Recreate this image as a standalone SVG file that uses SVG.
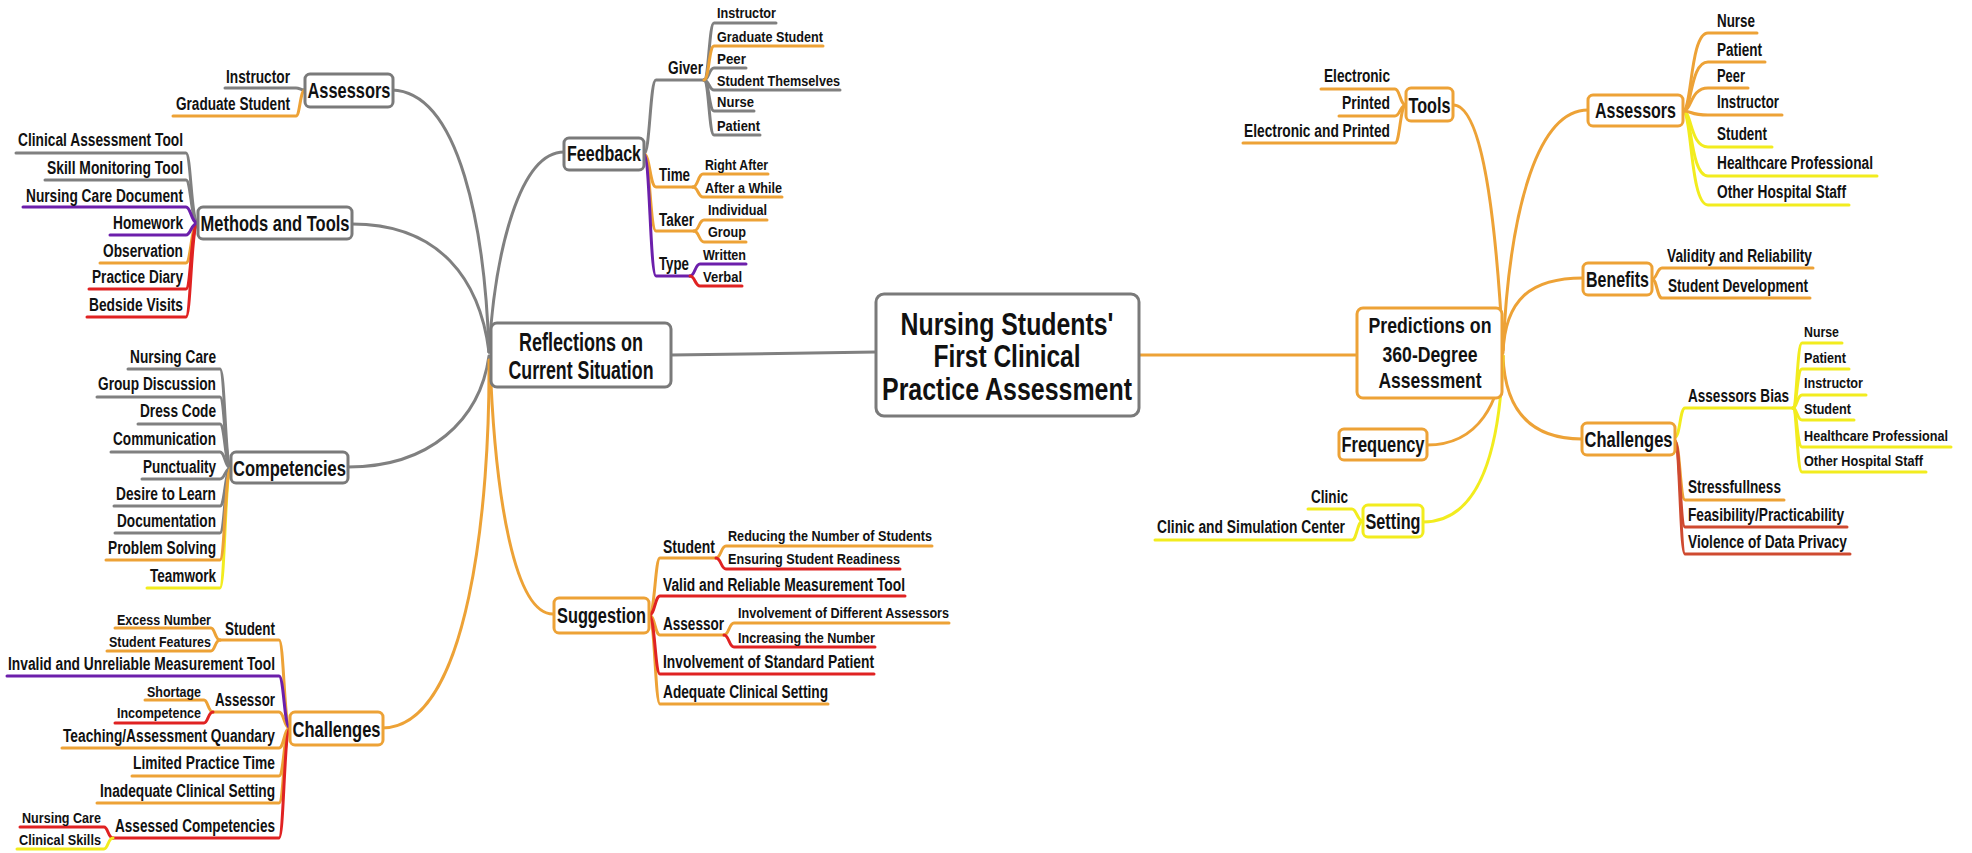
<svg xmlns="http://www.w3.org/2000/svg" width="1972" height="853" viewBox="0 0 1972 853">
<style>
text{font-family:"Liberation Sans",Arial,sans-serif;font-weight:bold;fill:#111}
.s32{font-size:32px}.s24{font-size:25px}.s21{font-size:22px}.s17{font-size:18px}.s15{font-size:15px}
.e{text-anchor:end}.m{text-anchor:middle}
path{fill:none;stroke-width:3;stroke-linecap:round}
.g{stroke:#808080}.o{stroke:#eda236}.y{stroke:#f2ec1e}.p{stroke:#6c1fab}.r{stroke:#e02222}.d{stroke:#cf4a30}
rect{fill:#fff;stroke-width:3}
rect.g{stroke:#7a7a7a}
</style>
<rect width="1972" height="853" fill="#fff" stroke="none"/>
<g id="connectors">
<path class="g" d="M671 355L876 352"/>
<path class="o" d="M1139 355L1357 355"/>
<path class="g" d="M489 352C485 230 460 92 392 90"/>
<path class="g" d="M489 352C480 280 440 224 352 224"/>
<path class="g" d="M489 352C495 250 520 152 564 152"/>
<path class="g" d="M489 356C480 420 430 467 348 467"/>
<path class="o" d="M490 360C495 500 515 614 553 614"/>
<path class="o" d="M489 360C490 500 470 728 382 728"/>
<path class="g" d="M305 90C300 90 300 88 296 88H225"/>
<path class="o" d="M305 90C300 90 300 116 296 116H173"/>
<path class="g" d="M198 223C191 223 191 153 186 153H16"/>
<path class="g" d="M198 223C191 223 191 180 186 180H45"/>
<path class="p" d="M198 223C191 223 191 207 186 207H23"/>
<path class="o" d="M198 223C191 223 191 263 186 263H100"/>
<path class="r" d="M198 223C191 223 191 289 186 289H89"/>
<path class="r" d="M198 223C191 223 191 317 186 317H87"/>
<path class="p" d="M198 223C191 223 191 235 186 235H110"/>
<path class="g" d="M231 468C225 468 225 369 220 369H128"/>
<path class="g" d="M231 468C225 468 225 397 220 397H97"/>
<path class="g" d="M231 468C225 468 225 424 220 424H138"/>
<path class="g" d="M231 468C225 468 225 452 220 452H111"/>
<path class="g" d="M231 468C225 468 225 479 220 479H142"/>
<path class="g" d="M231 468C225 468 225 506 220 506H114"/>
<path class="g" d="M231 468C225 468 225 533 220 533H115"/>
<path class="y" d="M231 468C225 468 225 588 220 588H147"/>
<path class="o" d="M231 468C225 468 225 560 220 560H106"/>
<path class="o" d="M290 728C284 728 284 640 279 640H220"/>
<path class="o" d="M290 728C284 728 284 712 279 712H213"/>
<path class="o" d="M290 728C284 728 284 748 279 748H62"/>
<path class="o" d="M290 728C284 728 284 776 279 776H132"/>
<path class="o" d="M290 728C284 728 284 803 279 803H97"/>
<path class="p" d="M290 728C284 728 284 676 279 676H7"/>
<path class="r" d="M290 728C284 728 284 838 279 838H113"/>
<path class="o" d="M220 640C215 640 215 628 211 628H115"/>
<path class="o" d="M220 640C215 640 215 651 211 651H107"/>
<path class="o" d="M213 712C208 712 208 700 204 700H145"/>
<path class="r" d="M213 712C208 712 208 723 204 723H115"/>
<path class="r" d="M113 838C108 838 108 827 104 827H20"/>
<path class="y" d="M113 838C108 838 108 849 104 849H17"/>
<path class="g" d="M644 154C650 154 650 80 656 80H704"/>
<path class="o" d="M644 154C650 154 650 187 656 187H693"/>
<path class="o" d="M644 154C650 154 650 231 656 231H694"/>
<path class="p" d="M644 154C650 154 650 276 656 276H690"/>
<path class="g" d="M704 80C709 80 709 23 714 23H776"/>
<path class="g" d="M704 80C709 80 709 68 714 68H746"/>
<path class="g" d="M704 80C709 80 709 90 714 90H840"/>
<path class="g" d="M704 80C709 80 709 111 714 111H754"/>
<path class="g" d="M704 80C709 80 709 135 714 135H760"/>
<path class="o" d="M704 80C709 80 709 46 714 46H823"/>
<path class="o" d="M693 187C698 187 698 174 703 174H768"/>
<path class="o" d="M693 187C698 187 698 197 703 197H782"/>
<path class="o" d="M694 231C699 231 699 220 704 220H767"/>
<path class="o" d="M694 231C699 231 699 242 704 242H746"/>
<path class="p" d="M690 276C695 276 695 264 700 264H746"/>
<path class="r" d="M690 276C695 276 695 286 700 286H742"/>
<path class="o" d="M649 615C655 615 655 558 660 558H716"/>
<path class="o" d="M649 615C655 615 655 635 660 635H724"/>
<path class="o" d="M649 615C655 615 655 704 660 704H828"/>
<path class="r" d="M649 615C655 615 655 596 660 596H905"/>
<path class="r" d="M649 615C655 615 655 674 660 674H874"/>
<path class="o" d="M716 558C721 558 721 546 726 546H932"/>
<path class="r" d="M716 558C721 558 721 569 726 569H900"/>
<path class="o" d="M724 635C729 635 729 623 734 623H949"/>
<path class="r" d="M724 635C729 635 729 647 734 647H875"/>
<path class="o" d="M1503 350C1495 200 1480 105 1453 105"/>
<path class="o" d="M1503 350C1510 200 1540 110 1588 110"/>
<path class="o" d="M1503 353C1505 300 1530 278 1583 278"/>
<path class="o" d="M1503 356C1505 410 1530 439 1582 439"/>
<path class="o" d="M1503 356C1500 400 1480 445 1427 445"/>
<path class="y" d="M1503 356C1500 450 1480 522 1423 522"/>
<path class="o" d="M1406 105C1400 105 1400 89 1395 89H1321"/>
<path class="o" d="M1406 105C1400 105 1400 116 1395 116H1339"/>
<path class="o" d="M1406 105C1400 105 1400 143 1395 143H1243"/>
<path class="y" d="M1683 111C1692 111 1690 205 1708 205H1849"/>
<path class="y" d="M1683 111C1692 111 1690 176 1708 176H1877"/>
<path class="y" d="M1683 111C1692 111 1690 147 1708 147H1772"/>
<path class="o" d="M1683 111C1692 111 1690 33 1708 33H1757"/>
<path class="o" d="M1683 111C1692 111 1690 62 1708 62H1765"/>
<path class="o" d="M1683 111C1692 111 1690 88 1708 88H1748"/>
<path class="o" d="M1683 111C1692 111 1690 115 1708 115H1782"/>
<path class="o" d="M1652 279C1657 279 1657 268 1662 268H1813"/>
<path class="o" d="M1652 279C1657 279 1657 298 1662 298H1810"/>
<path class="o" d="M1675 441C1680 441 1680 500 1685 500H1784"/>
<path class="d" d="M1675 441C1680 441 1680 527 1685 527H1847"/>
<path class="d" d="M1675 441C1680 441 1680 554 1685 554H1850"/>
<path class="y" d="M1675 437C1680 437 1680 408 1685 408H1793"/>
<path class="y" d="M1793 408C1797 408 1797 343 1802 343H1842"/>
<path class="y" d="M1793 408C1797 408 1797 369 1802 369H1849"/>
<path class="y" d="M1793 408C1797 408 1797 395 1802 395H1866"/>
<path class="y" d="M1793 408C1797 408 1797 420 1802 420H1854"/>
<path class="y" d="M1793 408C1797 408 1797 447 1802 447H1951"/>
<path class="y" d="M1793 408C1797 408 1797 472 1802 472H1926"/>
<path class="y" d="M1363 521C1357 521 1357 509 1352 509H1308"/>
<path class="y" d="M1363 521C1357 521 1357 540 1352 540H1155"/>
</g>
<g id="root">
<rect class="g" x="876" y="294" width="263" height="122" rx="8"/>
<text class="s32 m" x="1007" y="335" textLength="213" lengthAdjust="spacingAndGlyphs">Nursing Students'</text>
<text class="s32 m" x="1007" y="367" textLength="147" lengthAdjust="spacingAndGlyphs">First Clinical</text>
<text class="s32 m" x="1007" y="400" textLength="250" lengthAdjust="spacingAndGlyphs">Practice Assessment</text>
</g>
<g id="reflections">
<rect class="g" x="491" y="323" width="180" height="64" rx="6"/>
<text class="s24 m" x="581" y="351" textLength="124" lengthAdjust="spacingAndGlyphs">Reflections on</text>
<text class="s24 m" x="581" y="379" textLength="145" lengthAdjust="spacingAndGlyphs">Current Situation</text>
</g>
<g id="predictions">
<rect class="o" x="1357" y="308" width="145" height="90" rx="6"/>
<text class="s21 m" x="1430" y="333" textLength="123" lengthAdjust="spacingAndGlyphs">Predictions on</text>
<text class="s21 m" x="1430" y="362" textLength="95" lengthAdjust="spacingAndGlyphs">360-Degree</text>
<text class="s21 m" x="1430" y="388" textLength="103" lengthAdjust="spacingAndGlyphs">Assessment</text>
</g>
<g id="l-assessors"><rect class="g" x="305" y="74" width="88" height="33" rx="5"/><text class="s21 m" x="349" y="98" textLength="83" lengthAdjust="spacingAndGlyphs">Assessors</text></g>
<g id="l-assessors-1"><text class="s17 e" x="290" y="83" textLength="64" lengthAdjust="spacingAndGlyphs">Instructor</text></g>
<g id="l-assessors-2"><text class="s17 e" x="290" y="110" textLength="114" lengthAdjust="spacingAndGlyphs">Graduate Student</text></g>
<g id="l-methods"><rect class="g" x="198" y="207" width="154" height="32" rx="5"/><text class="s21 m" x="275" y="231" textLength="149" lengthAdjust="spacingAndGlyphs">Methods and Tools</text></g>
<g id="l-methods-1"><text class="s17 e" x="183" y="146" textLength="165" lengthAdjust="spacingAndGlyphs">Clinical Assessment Tool</text></g>
<g id="l-methods-2"><text class="s17 e" x="183" y="174" textLength="136" lengthAdjust="spacingAndGlyphs">Skill Monitoring Tool</text></g>
<g id="l-methods-3"><text class="s17 e" x="183" y="202" textLength="157" lengthAdjust="spacingAndGlyphs">Nursing Care Document</text></g>
<g id="l-methods-4"><text class="s17 e" x="183" y="229" textLength="70" lengthAdjust="spacingAndGlyphs">Homework</text></g>
<g id="l-methods-5"><text class="s17 e" x="183" y="257" textLength="80" lengthAdjust="spacingAndGlyphs">Observation</text></g>
<g id="l-methods-6"><text class="s17 e" x="183" y="283" textLength="91" lengthAdjust="spacingAndGlyphs">Practice Diary</text></g>
<g id="l-methods-7"><text class="s17 e" x="183" y="311" textLength="94" lengthAdjust="spacingAndGlyphs">Bedside Visits</text></g>
<g id="l-competencies"><rect class="g" x="231" y="452" width="117" height="31" rx="5"/><text class="s21 m" x="289.5" y="476" textLength="113" lengthAdjust="spacingAndGlyphs">Competencies</text></g>
<g id="l-comp-1"><text class="s17 e" x="216" y="363" textLength="86" lengthAdjust="spacingAndGlyphs">Nursing Care</text></g>
<g id="l-comp-2"><text class="s17 e" x="216" y="390" textLength="118" lengthAdjust="spacingAndGlyphs">Group Discussion</text></g>
<g id="l-comp-3"><text class="s17 e" x="216" y="417" textLength="76" lengthAdjust="spacingAndGlyphs">Dress Code</text></g>
<g id="l-comp-4"><text class="s17 e" x="216" y="445" textLength="103" lengthAdjust="spacingAndGlyphs">Communication</text></g>
<g id="l-comp-5"><text class="s17 e" x="216" y="473" textLength="73" lengthAdjust="spacingAndGlyphs">Punctuality</text></g>
<g id="l-comp-6"><text class="s17 e" x="216" y="500" textLength="100" lengthAdjust="spacingAndGlyphs">Desire to Learn</text></g>
<g id="l-comp-7"><text class="s17 e" x="216" y="527" textLength="99" lengthAdjust="spacingAndGlyphs">Documentation</text></g>
<g id="l-comp-8"><text class="s17 e" x="216" y="554" textLength="108" lengthAdjust="spacingAndGlyphs">Problem Solving</text></g>
<g id="l-comp-9"><text class="s17 e" x="216" y="582" textLength="66" lengthAdjust="spacingAndGlyphs">Teamwork</text></g>
<g id="l-challenges"><rect class="o" x="290" y="712" width="93" height="33" rx="5"/><text class="s21 m" x="336.5" y="737" textLength="88" lengthAdjust="spacingAndGlyphs">Challenges</text></g>
<g id="l-ch-student"><text class="s17 e" x="275" y="635" textLength="50" lengthAdjust="spacingAndGlyphs">Student</text></g>
<g id="l-ch-student-1"><text class="s15 e" x="211" y="625" textLength="94" lengthAdjust="spacingAndGlyphs">Excess Number</text></g>
<g id="l-ch-student-2"><text class="s15 e" x="211" y="647" textLength="102" lengthAdjust="spacingAndGlyphs">Student Features</text></g>
<g id="l-ch-invalid"><text class="s17 e" x="275" y="670" textLength="267" lengthAdjust="spacingAndGlyphs">Invalid and Unreliable Measurement Tool</text></g>
<g id="l-ch-assessor"><text class="s17 e" x="275" y="706" textLength="60" lengthAdjust="spacingAndGlyphs">Assessor</text></g>
<g id="l-ch-assessor-1"><text class="s15 e" x="201" y="697" textLength="54" lengthAdjust="spacingAndGlyphs">Shortage</text></g>
<g id="l-ch-assessor-2"><text class="s15 e" x="201" y="718" textLength="84" lengthAdjust="spacingAndGlyphs">Incompetence</text></g>
<g id="l-ch-quandary"><text class="s17 e" x="275" y="742" textLength="212" lengthAdjust="spacingAndGlyphs">Teaching/Assessment Quandary</text></g>
<g id="l-ch-time"><text class="s17 e" x="275" y="769" textLength="142" lengthAdjust="spacingAndGlyphs">Limited Practice Time</text></g>
<g id="l-ch-setting"><text class="s17 e" x="275" y="797" textLength="175" lengthAdjust="spacingAndGlyphs">Inadequate Clinical Setting</text></g>
<g id="l-ch-assessed"><text class="s17 e" x="275" y="832" textLength="160" lengthAdjust="spacingAndGlyphs">Assessed Competencies</text></g>
<g id="l-ch-assessed-1"><text class="s15 e" x="101" y="823" textLength="79" lengthAdjust="spacingAndGlyphs">Nursing Care</text></g>
<g id="l-ch-assessed-2"><text class="s15 e" x="101" y="845" textLength="82" lengthAdjust="spacingAndGlyphs">Clinical Skills</text></g>
<g id="feedback"><rect class="g" x="564" y="138" width="80" height="32" rx="5"/><text class="s21 m" x="604" y="161" textLength="74" lengthAdjust="spacingAndGlyphs">Feedback</text></g>
<g id="fb-giver"><text class="s17" x="668" y="74" textLength="35" lengthAdjust="spacingAndGlyphs">Giver</text></g>
<g id="fb-giver-1"><text class="s15" x="717" y="18" textLength="59" lengthAdjust="spacingAndGlyphs">Instructor</text></g>
<g id="fb-giver-2"><text class="s15" x="717" y="42" textLength="106" lengthAdjust="spacingAndGlyphs">Graduate Student</text></g>
<g id="fb-giver-3"><text class="s15" x="717" y="64" textLength="29" lengthAdjust="spacingAndGlyphs">Peer</text></g>
<g id="fb-giver-4"><text class="s15" x="717" y="86" textLength="123" lengthAdjust="spacingAndGlyphs">Student Themselves</text></g>
<g id="fb-giver-5"><text class="s15" x="717" y="107" textLength="37" lengthAdjust="spacingAndGlyphs">Nurse</text></g>
<g id="fb-giver-6"><text class="s15" x="717" y="131" textLength="43" lengthAdjust="spacingAndGlyphs">Patient</text></g>
<g id="fb-time"><text class="s17" x="659" y="181" textLength="31" lengthAdjust="spacingAndGlyphs">Time</text></g>
<g id="fb-time-1"><text class="s15" x="705" y="170" textLength="63" lengthAdjust="spacingAndGlyphs">Right After</text></g>
<g id="fb-time-2"><text class="s15" x="705" y="193" textLength="77" lengthAdjust="spacingAndGlyphs">After a While</text></g>
<g id="fb-taker"><text class="s17" x="659" y="226" textLength="35" lengthAdjust="spacingAndGlyphs">Taker</text></g>
<g id="fb-taker-1"><text class="s15" x="708" y="215" textLength="59" lengthAdjust="spacingAndGlyphs">Individual</text></g>
<g id="fb-taker-2"><text class="s15" x="708" y="237" textLength="38" lengthAdjust="spacingAndGlyphs">Group</text></g>
<g id="fb-type"><text class="s17" x="659" y="270" textLength="30" lengthAdjust="spacingAndGlyphs">Type</text></g>
<g id="fb-type-1"><text class="s15" x="703" y="260" textLength="43" lengthAdjust="spacingAndGlyphs">Written</text></g>
<g id="fb-type-2"><text class="s15" x="703" y="282" textLength="39" lengthAdjust="spacingAndGlyphs">Verbal</text></g>
<g id="suggestion"><rect class="o" x="554" y="598" width="95" height="35" rx="5"/><text class="s21 m" x="601.5" y="623" textLength="89" lengthAdjust="spacingAndGlyphs">Suggestion</text></g>
<g id="sg-student"><text class="s17" x="663" y="553" textLength="52" lengthAdjust="spacingAndGlyphs">Student</text></g>
<g id="sg-student-1"><text class="s15" x="728" y="541" textLength="204" lengthAdjust="spacingAndGlyphs">Reducing the Number of Students</text></g>
<g id="sg-student-2"><text class="s15" x="728" y="564" textLength="172" lengthAdjust="spacingAndGlyphs">Ensuring Student Readiness</text></g>
<g id="sg-valid"><text class="s17" x="663" y="591" textLength="242" lengthAdjust="spacingAndGlyphs">Valid and Reliable Measurement Tool</text></g>
<g id="sg-assessor"><text class="s17" x="663" y="630" textLength="61" lengthAdjust="spacingAndGlyphs">Assessor</text></g>
<g id="sg-assessor-1"><text class="s15" x="738" y="618" textLength="211" lengthAdjust="spacingAndGlyphs">Involvement of Different Assessors</text></g>
<g id="sg-assessor-2"><text class="s15" x="738" y="643" textLength="137" lengthAdjust="spacingAndGlyphs">Increasing the Number</text></g>
<g id="sg-patient"><text class="s17" x="663" y="668" textLength="211" lengthAdjust="spacingAndGlyphs">Involvement of Standard Patient</text></g>
<g id="sg-setting"><text class="s17" x="663" y="698" textLength="165" lengthAdjust="spacingAndGlyphs">Adequate Clinical Setting</text></g>
<g id="tools"><rect class="o" x="1406" y="88" width="47" height="33" rx="5"/><text class="s21 m" x="1429.5" y="113" textLength="42" lengthAdjust="spacingAndGlyphs">Tools</text></g>
<g id="tools-1"><text class="s17 e" x="1390" y="82" textLength="66" lengthAdjust="spacingAndGlyphs">Electronic</text></g>
<g id="tools-2"><text class="s17 e" x="1390" y="109" textLength="48" lengthAdjust="spacingAndGlyphs">Printed</text></g>
<g id="tools-3"><text class="s17 e" x="1390" y="137" textLength="146" lengthAdjust="spacingAndGlyphs">Electronic and Printed</text></g>
<g id="r-assessors"><rect class="o" x="1588" y="95" width="95" height="31" rx="5"/><text class="s21 m" x="1635.5" y="118" textLength="81" lengthAdjust="spacingAndGlyphs">Assessors</text></g>
<g id="r-assessors-1"><text class="s17" x="1717" y="27" textLength="38" lengthAdjust="spacingAndGlyphs">Nurse</text></g>
<g id="r-assessors-2"><text class="s17" x="1717" y="56" textLength="45" lengthAdjust="spacingAndGlyphs">Patient</text></g>
<g id="r-assessors-3"><text class="s17" x="1717" y="82" textLength="28" lengthAdjust="spacingAndGlyphs">Peer</text></g>
<g id="r-assessors-4"><text class="s17" x="1717" y="108" textLength="62" lengthAdjust="spacingAndGlyphs">Instructor</text></g>
<g id="r-assessors-5"><text class="s17" x="1717" y="140" textLength="50" lengthAdjust="spacingAndGlyphs">Student</text></g>
<g id="r-assessors-6"><text class="s17" x="1717" y="169" textLength="156" lengthAdjust="spacingAndGlyphs">Healthcare Professional</text></g>
<g id="r-assessors-7"><text class="s17" x="1717" y="198" textLength="129" lengthAdjust="spacingAndGlyphs">Other Hospital Staff</text></g>
<g id="benefits"><rect class="o" x="1583" y="263" width="69" height="32" rx="5"/><text class="s21 m" x="1617.5" y="287" textLength="63" lengthAdjust="spacingAndGlyphs">Benefits</text></g>
<g id="benefits-1"><text class="s17" x="1667" y="262" textLength="145" lengthAdjust="spacingAndGlyphs">Validity and Reliability</text></g>
<g id="benefits-2"><text class="s17" x="1668" y="292" textLength="140" lengthAdjust="spacingAndGlyphs">Student Development</text></g>
<g id="r-challenges"><rect class="o" x="1582" y="423" width="93" height="32" rx="5"/><text class="s21 m" x="1628.5" y="447" textLength="88" lengthAdjust="spacingAndGlyphs">Challenges</text></g>
<g id="r-ch-bias"><text class="s17" x="1688" y="402" textLength="101" lengthAdjust="spacingAndGlyphs">Assessors Bias</text></g>
<g id="r-ch-bias-1"><text class="s15" x="1804" y="337" textLength="35" lengthAdjust="spacingAndGlyphs">Nurse</text></g>
<g id="r-ch-bias-2"><text class="s15" x="1804" y="363" textLength="42" lengthAdjust="spacingAndGlyphs">Patient</text></g>
<g id="r-ch-bias-3"><text class="s15" x="1804" y="388" textLength="59" lengthAdjust="spacingAndGlyphs">Instructor</text></g>
<g id="r-ch-bias-4"><text class="s15" x="1804" y="414" textLength="47" lengthAdjust="spacingAndGlyphs">Student</text></g>
<g id="r-ch-bias-5"><text class="s15" x="1804" y="441" textLength="144" lengthAdjust="spacingAndGlyphs">Healthcare Professional</text></g>
<g id="r-ch-bias-6"><text class="s15" x="1804" y="466" textLength="119" lengthAdjust="spacingAndGlyphs">Other Hospital Staff</text></g>
<g id="r-ch-stress"><text class="s17" x="1688" y="493" textLength="93" lengthAdjust="spacingAndGlyphs">Stressfullness</text></g>
<g id="r-ch-feas"><text class="s17" x="1688" y="521" textLength="156" lengthAdjust="spacingAndGlyphs">Feasibility/Practicability</text></g>
<g id="r-ch-privacy"><text class="s17" x="1688" y="548" textLength="159" lengthAdjust="spacingAndGlyphs">Violence of Data Privacy</text></g>
<g id="frequency"><rect class="o" x="1339" y="429" width="88" height="31" rx="5"/><text class="s21 m" x="1383" y="452" textLength="83" lengthAdjust="spacingAndGlyphs">Frequency</text></g>
<g id="setting"><rect class="y" x="1363" y="505" width="60" height="32" rx="5"/><text class="s21 m" x="1393" y="529" textLength="55" lengthAdjust="spacingAndGlyphs">Setting</text></g>
<g id="setting-1"><text class="s17 e" x="1348" y="503" textLength="37" lengthAdjust="spacingAndGlyphs">Clinic</text></g>
<g id="setting-2"><text class="s17 e" x="1345" y="533" textLength="188" lengthAdjust="spacingAndGlyphs">Clinic and Simulation Center</text></g>
</svg>
